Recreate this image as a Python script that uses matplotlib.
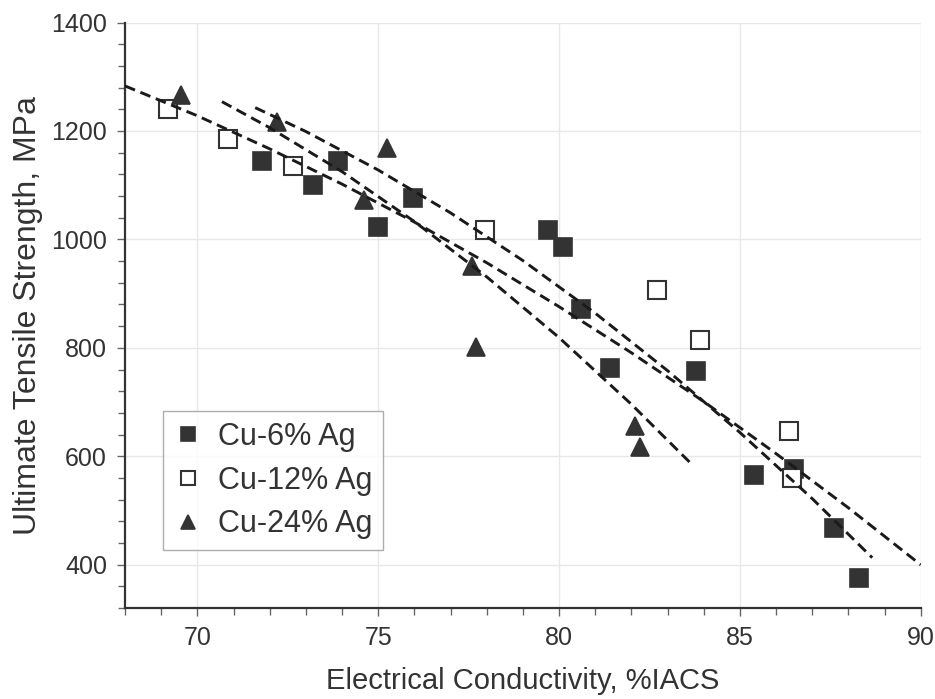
import matplotlib
matplotlib.use('Agg')
from matplotlib import pyplot as plt
from matplotlib.ticker import MultipleLocator

plt.rcParams['font.family'] = ['Liberation Sans', 'DejaVu Sans']

cu6_x = [71.8, 73.9, 73.2, 75.0, 75.95, 79.7, 80.1, 80.6, 81.4, 83.8, 85.4, 86.5, 87.6, 88.3]
cu6_y = [1144, 1144, 1101, 1023, 1077, 1017, 986, 872, 762, 758, 565, 577, 468, 376]

cu12_x = [69.2, 70.85, 72.65, 77.95, 82.7, 83.9, 86.35, 86.45]
cu12_y = [1241, 1186, 1135, 1017, 907, 815, 646, 560]

cu24_x = [69.55, 72.2, 75.25, 74.6, 77.6, 77.7, 82.1, 82.25]
cu24_y = [1266, 1217, 1168, 1072, 951, 801, 656, 617]

# Dashed trend lines, vertices.
fit12_x = [68, 70, 72, 74, 76, 78, 80, 82, 84, 86, 88, 90]
fit12_y = [1283, 1228, 1167, 1102, 1032, 957, 876, 791, 701, 605, 505, 400]

fit6_x = [71.6, 73, 75, 77, 79, 81, 83, 85, 87, 88.66]
fit6_y = [1243, 1199, 1128, 1049, 961, 864, 758, 644, 522, 413]

fit24_x = [70.68, 72, 74, 76, 78, 80, 82, 83.69]
fit24_y = [1254, 1206, 1125, 1033, 931, 819, 696, 584]

dark = '#333333'

fig = plt.figure(figsize=(9.35, 6.99), dpi=100)
ax = fig.add_axes([0.1337, 0.130, 0.851, 0.8378])

# Data points
ax.plot(cu6_x, cu6_y, 's', ms=13.5, mfc=dark, mec=dark, mew=1.2,
        label='Cu-6% Ag', zorder=3)
ax.plot(cu12_x, cu12_y, 's', ms=13.5, mfc='white', mec=dark, mew=1.5,
        label='Cu-12% Ag', zorder=3)
ax.plot(cu24_x, cu24_y, '^', ms=13.5, mfc=dark, mec=dark, mew=1.2,
        label='Cu-24% Ag', zorder=3)

# Trend lines
for fx, fy in [(fit12_x, fit12_y), (fit6_x, fit6_y), (fit24_x, fit24_y)]:
    ax.plot(fx, fy, color='#1a1a1a', lw=2.1, dashes=(3.7, 2.0), zorder=4)

# Format plot.
ax.set_xlim(68, 90)
ax.set_ylim(320, 1400)
ax.xaxis.set_major_locator(MultipleLocator(5))
ax.xaxis.set_minor_locator(MultipleLocator(1))
ax.yaxis.set_major_locator(MultipleLocator(200))
ax.yaxis.set_minor_locator(MultipleLocator(40))

ax.grid(True, which='major', color='#e8e8e8', lw=1.0, zorder=0)
ax.set_axisbelow(True)

for side in ['top', 'right']:
    ax.spines[side].set_visible(False)
for side in ['left', 'bottom']:
    ax.spines[side].set_color(dark)
    ax.spines[side].set_linewidth(1.6)

ax.tick_params(axis='both', which='both', direction='out', color='#666666',
               labelcolor=dark, labelsize=18)
ax.tick_params(axis='both', which='major', length=6, width=1, pad=7)
ax.tick_params(axis='both', which='minor', length=5, width=1)

ax.set_xlabel('Electrical Conductivity, %IACS', fontsize=21, color=dark, labelpad=12)
ax.set_ylabel('Ultimate Tensile Strength, MPa', fontsize=23, color=dark, labelpad=6)

leg = ax.legend(loc='lower left', bbox_to_anchor=(0.048, 0.099), fontsize=22,
                markerscale=0.72, frameon=True, fancybox=False,
                edgecolor='#999999', borderpad=0.35, labelspacing=0.45,
                handletextpad=0.5, handlelength=0.95, borderaxespad=0)
for t in leg.get_texts():
    t.set_color(dark)
leg.get_frame().set_linewidth(1.0)

plt.savefig('out.png', dpi=100)
